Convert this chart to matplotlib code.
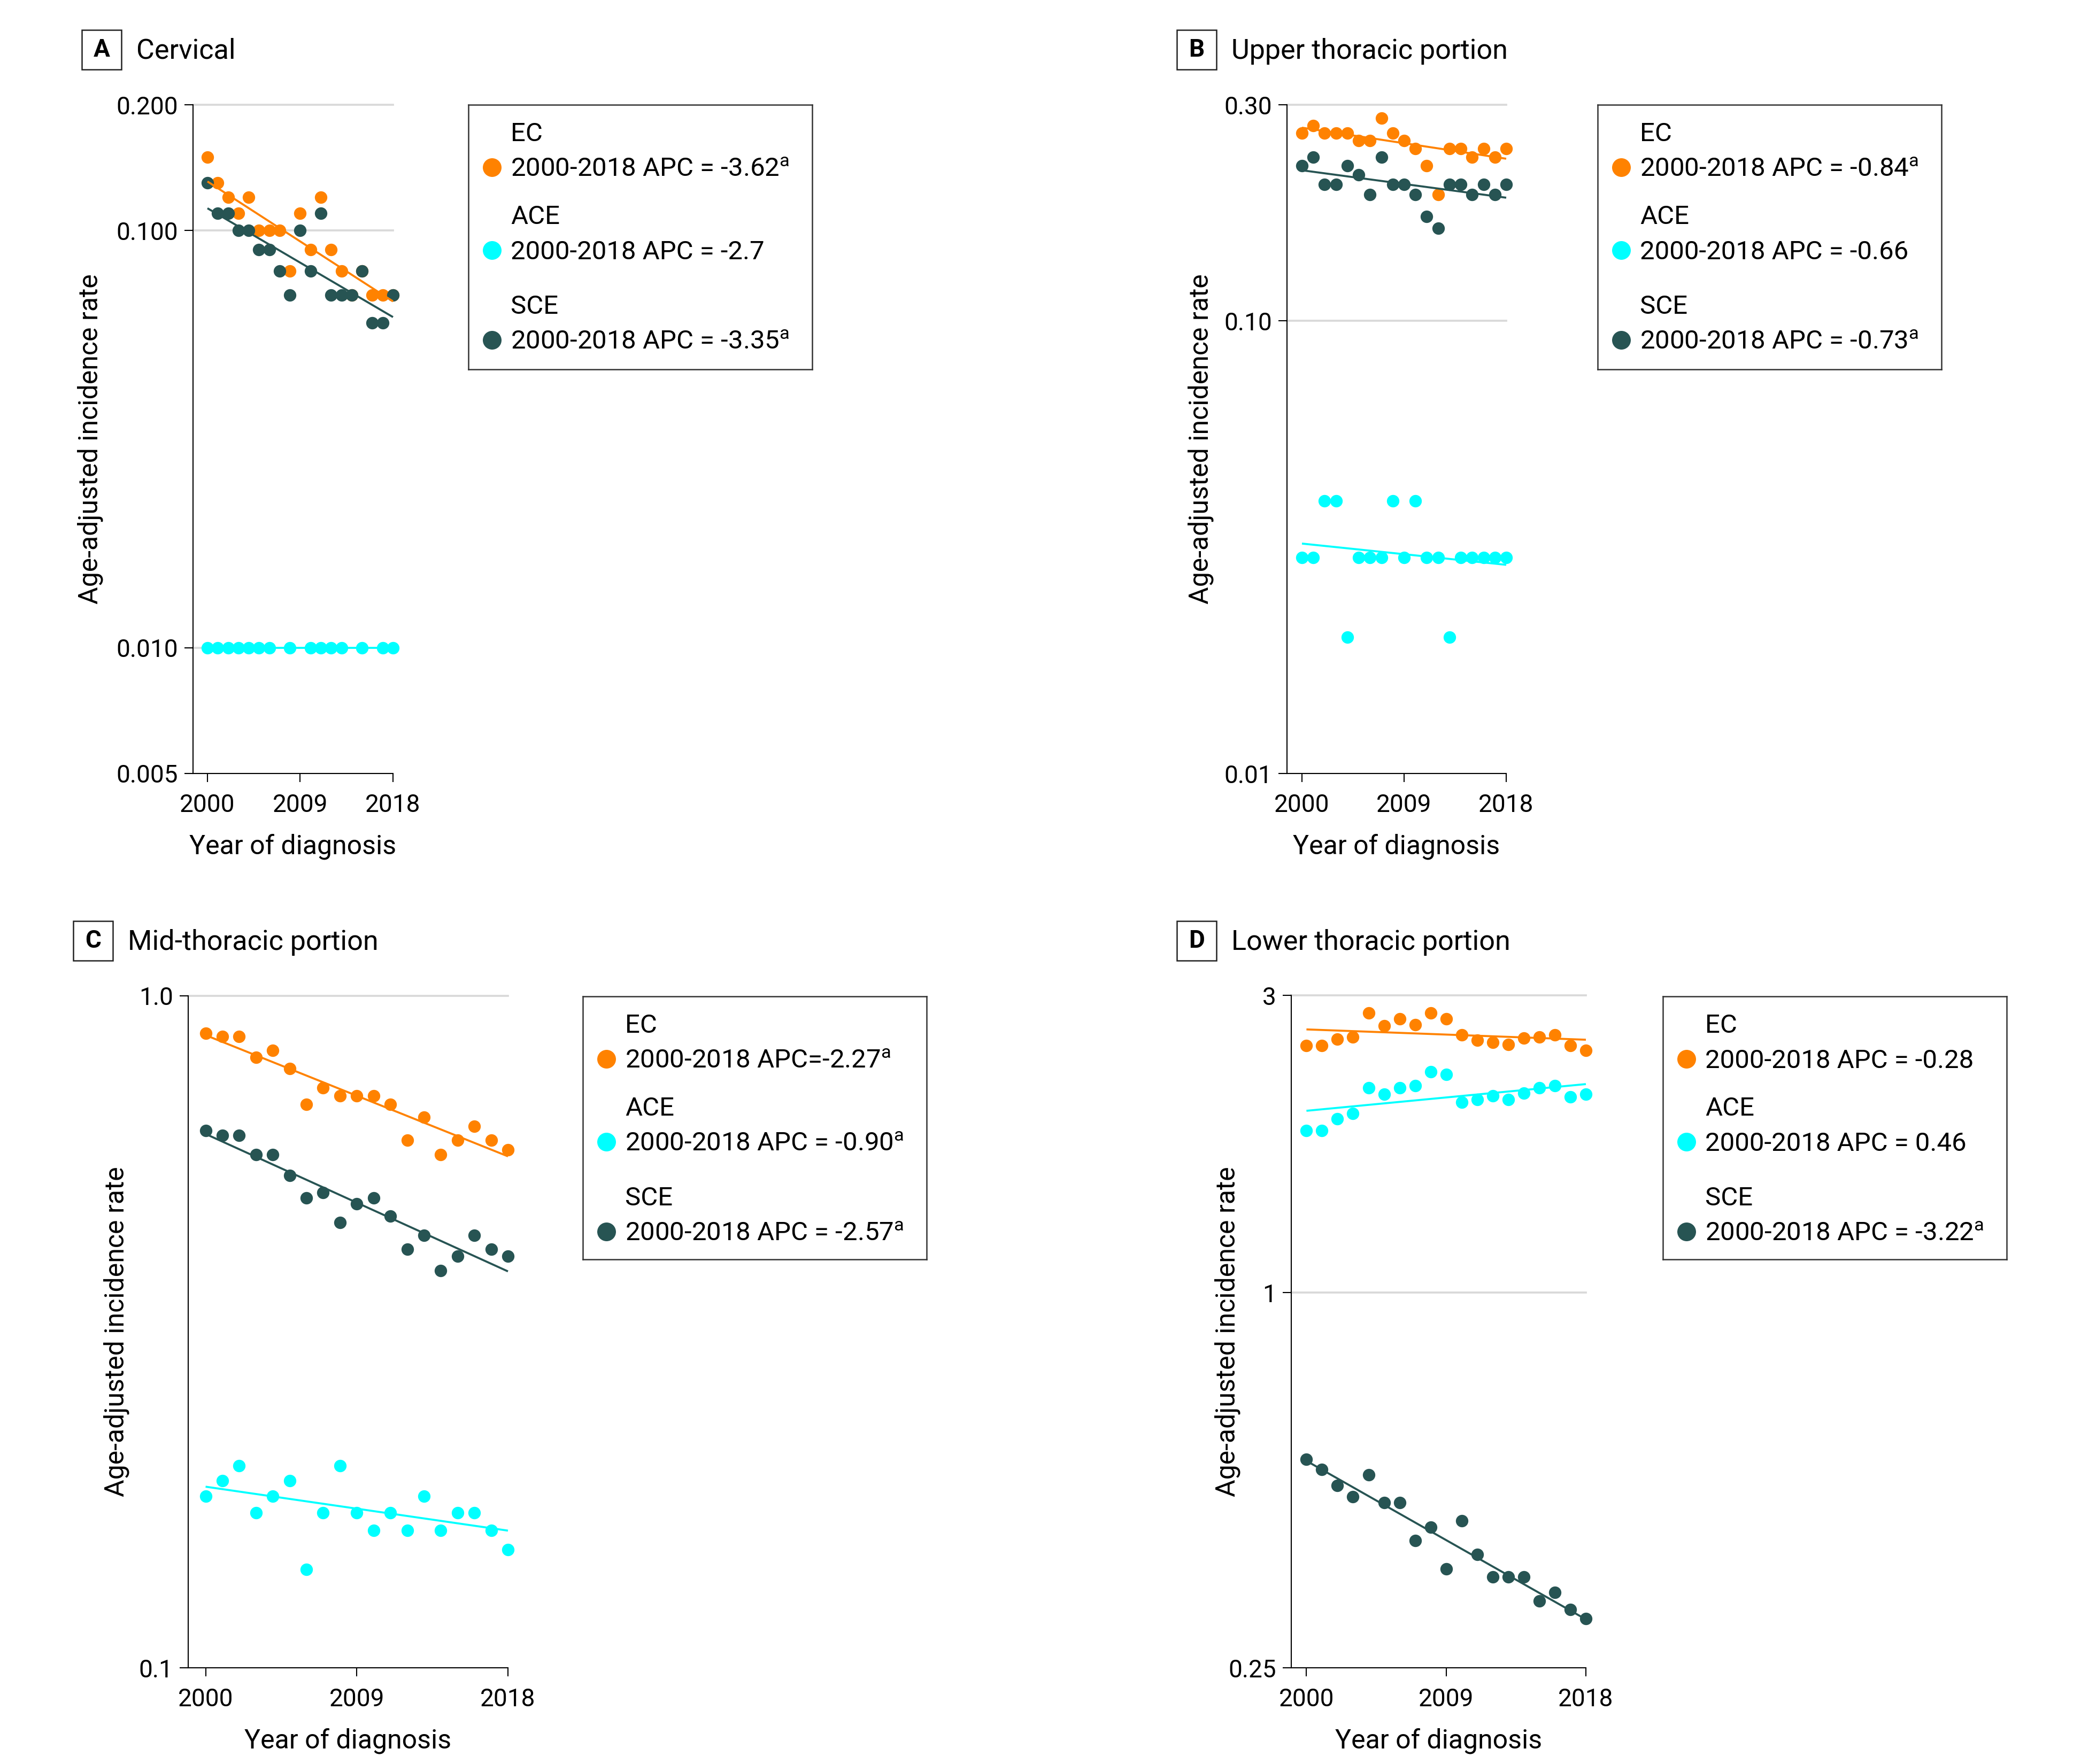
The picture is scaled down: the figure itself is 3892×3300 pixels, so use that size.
import numpy as np
import matplotlib
matplotlib.use("Agg")
import matplotlib.pyplot as plt
from matplotlib.patches import Rectangle
from matplotlib.ticker import NullLocator

plt.rcParams["font.family"] = ["Roboto", "DejaVu Sans"]
plt.rcParams["mathtext.fontset"] = "custom"
plt.rcParams["mathtext.rm"] = "Roboto"
plt.rcParams["mathtext.it"] = "Roboto:italic"
plt.rcParams["mathtext.bf"] = "Roboto:bold"

nan = np.nan
years = list(range(2000, 2019))

# ---- data (age-adjusted incidence rate per year) ----
cervical_ec = [0.15, 0.13, 0.12, 0.11, 0.12, 0.10, 0.10, 0.10, 0.08, 0.11,
               0.09, 0.12, 0.09, 0.08, 0.07, 0.08, 0.07, 0.07, 0.07]
cervical_ace = [0.01, 0.01, 0.01, 0.01, 0.01, 0.01, 0.01, nan, 0.01, nan,
                0.01, 0.01, 0.01, 0.01, nan, 0.01, nan, 0.01, 0.01]
cervical_sce = [0.13, 0.11, 0.11, 0.10, 0.10, 0.09, 0.09, 0.08, 0.07, 0.10,
                0.08, 0.11, 0.07, 0.07, 0.07, 0.08, 0.06, 0.06, 0.07]

upper_ec = [0.26, 0.27, 0.26, 0.26, 0.26, 0.25, 0.25, 0.28, 0.26, 0.25,
            0.24, 0.22, 0.19, 0.24, 0.24, 0.23, 0.24, 0.23, 0.24]
upper_ace = [0.03, 0.03, 0.04, 0.04, 0.02, 0.03, 0.03, 0.03, 0.04, 0.03,
             0.04, 0.03, 0.03, 0.02, 0.03, 0.03, 0.03, 0.03, 0.03]
upper_sce = [0.22, 0.23, 0.20, 0.20, 0.22, 0.21, 0.19, 0.23, 0.20, 0.20,
             0.19, 0.17, 0.16, 0.20, 0.20, 0.19, 0.20, 0.19, 0.20]

mid_ec = [0.88, 0.87, 0.87, 0.81, 0.83, 0.78, 0.69, 0.73, 0.71, 0.71,
          0.71, 0.69, 0.61, 0.66, 0.58, 0.61, 0.64, 0.61, 0.59]
mid_ace = [0.18, 0.19, 0.20, 0.17, 0.18, 0.19, 0.14, 0.17, 0.20, 0.17,
           0.16, 0.17, 0.16, 0.18, 0.16, 0.17, 0.17, 0.16, 0.15]
mid_sce = [0.63, 0.62, 0.62, 0.58, 0.58, 0.54, 0.50, 0.51, 0.46, 0.49,
           0.50, 0.47, 0.42, 0.44, 0.39, 0.41, 0.44, 0.42, 0.41]

lower_ec = [2.49, 2.49, 2.55, 2.57, 2.81, 2.68, 2.75, 2.69, 2.81, 2.75,
            2.59, 2.54, 2.52, 2.50, 2.56, 2.57, 2.59, 2.49, 2.45]
lower_ace = [1.82, 1.82, 1.90, 1.94, 2.13, 2.08, 2.13, 2.15, 2.26, 2.24,
             2.02, 2.04, 2.07, 2.04, 2.09, 2.13, 2.15, 2.06, 2.08]
lower_sce = [0.54, 0.52, 0.49, 0.47, 0.51, 0.46, 0.46, 0.40, 0.42, 0.36,
             0.43, 0.38, 0.35, 0.35, 0.35, 0.32, 0.33, 0.31, 0.30]

# joinpoint trend, value at 2000 and at 2018
cervical_trend = {"EC": (0.131, 0.0676), "ACE": (0.010, 0.010), "SCE": (0.113, 0.062)}
upper_trend = {"EC": (0.267, 0.228), "ACE": (0.0322, 0.0289), "SCE": (0.215, 0.187)}
mid_trend = {"EC": (0.874, 0.577), "ACE": (0.186, 0.160), "SCE": (0.623, 0.389)}
lower_trend = {"EC": (2.645, 2.546), "ACE": (1.958, 2.161), "SCE": (0.537, 0.299)}

# APC labels (text, significant?)
cervical_apc = {"EC": ("= -3.62", True), "ACE": ("= -2.7", False), "SCE": ("= -3.35", True)}
upper_apc = {"EC": ("= -0.84", True), "ACE": ("= -0.66", False), "SCE": ("= -0.73", True)}
mid_apc = {"EC": ("=-2.27", True), "ACE": ("= -0.90", True), "SCE": ("= -2.57", True)}
lower_apc = {"EC": ("= -0.28", False), "ACE": ("= 0.46", False), "SCE": ("= -3.22", True)}

series_names = ["EC", "ACE", "SCE"]
colors = {"EC": "#FF8200", "ACE": "#00FFFF", "SCE": "#275453"}

# ---- layout in pixels of the 3892 x 3300 canvas ----
W, H = 3892, 3300
fig = plt.figure(figsize=(W / 300, H / 300), dpi=300)


def rect(l, t, r, b):
    return [l / W, 1 - b / H, (r - l) / W, (b - t) / H]


panels = [
    dict(letter="A", title="Cervical",
         data={"EC": cervical_ec, "ACE": cervical_ace, "SCE": cervical_sce},
         trend=cervical_trend, apc=cervical_apc,
         ax_px=(361, 196, 735, 1447), x2000=388,
         ylim=(0.005, 0.2), yticks=[0.005, 0.01, 0.1, 0.2],
         ylabels=["0.005", "0.010", "0.100", "0.200"],
         ylab_x=169, box=(876, 196, 1519, 691), tag=(153, 93)),
    dict(letter="B", title="Upper thoracic portion",
         data={"EC": upper_ec, "ACE": upper_ace, "SCE": upper_sce},
         trend=upper_trend, apc=upper_apc,
         ax_px=(2407, 196, 2817, 1447), x2000=2435,
         ylim=(0.01, 0.3), yticks=[0.01, 0.1, 0.3],
         ylabels=["0.01", "0.10", "0.30"],
         ylab_x=2246, box=(2988, 196, 3631, 691), tag=(2201, 93)),
    dict(letter="C", title="Mid-thoracic portion",
         data={"EC": mid_ec, "ACE": mid_ace, "SCE": mid_sce},
         trend=mid_trend, apc=mid_apc,
         ax_px=(352, 1863, 950, 3120), x2000=384.5,
         ylim=(0.1, 1.0), yticks=[0.1, 1.0],
         ylabels=["0.1", "1.0"],
         ylab_x=218, box=(1090, 1864, 1733, 2356), tag=(137, 1760)),
    dict(letter="D", title="Lower thoracic portion",
         data={"EC": lower_ec, "ACE": lower_ace, "SCE": lower_sce},
         trend=lower_trend, apc=lower_apc,
         ax_px=(2415, 1862, 2966, 3120), x2000=2443.4,
         ylim=(0.25, 3), yticks=[0.25, 1, 3],
         ylabels=["0.25", "1", "3"],
         ylab_x=2296, box=(3110, 1864, 3753, 2356), tag=(2201, 1760)),
]

for p in panels:
    l, t, r, b = p["ax_px"]
    ax = fig.add_axes(rect(l, t, r, b))
    per_year = (r - p["x2000"]) / 18
    ax.set_xlim(2000 - (p["x2000"] - l) / per_year, 2018)
    ax.set_yscale("log")
    ax.set_ylim(*p["ylim"])

    for tk in p["yticks"][1:]:
        ax.axhline(tk, color="#d9d9d9", lw=0.9, zorder=1, clip_on=False)

    for name in series_names:
        ax.plot(years, p["data"][name], "o", ms=5.6, color=colors[name],
                mec="none", zorder=3, clip_on=False)
    for name in series_names:
        s, e = p["trend"][name]
        ax.plot([2000, 2018], [s, e], color=colors[name], lw=0.9,
                zorder=4, clip_on=False, solid_capstyle="butt")

    for side in ["top", "right"]:
        ax.spines[side].set_visible(False)
    for side in ["left", "bottom"]:
        ax.spines[side].set_linewidth(0.5)
        ax.spines[side].set_zorder(5)

    ax.set_yticks(p["yticks"])
    ax.set_yticklabels(p["ylabels"])
    ax.yaxis.set_minor_locator(NullLocator())
    ax.set_xticks([2000, 2009, 2018])
    ax.set_xticklabels(["2000", "2009", "2018"])
    ax.tick_params(direction="out", length=3.8, width=0.5, labelsize=11, pad=3)
    ax.tick_params(axis="x", pad=5)

    ax.set_xlabel("Year of diagnosis", fontsize=12)
    ax.xaxis.set_label_coords(0.5, -137 / (b - t))
    ax.xaxis.label.set_va("center")
    ax.set_ylabel("Age-adjusted incidence rate", fontsize=12)
    ax.yaxis.set_label_coords(-(l - p["ylab_x"]) / (r - l), 0.5)
    ax.yaxis.label.set_va("center")

    # panel tag and title
    tx, ty = p["tag"]
    fig.patches.append(Rectangle((tx / W, 1 - (ty + 37) / H), 74 / W, 74 / H,
                                 transform=fig.transFigure, fill=False,
                                 lw=0.6, edgecolor="#222222"))
    fig.text((tx + 37) / W, 1 - ty / H, p["letter"], ha="center", va="center",
             fontsize=11, fontweight="bold")
    fig.text((tx + 102) / W, 1 - (ty + 3) / H, p["title"], ha="left", va="center",
             fontsize=12.5)

    # legend box
    bl, bt, br, bb = p["box"]
    bw, bh = br - bl, bb - bt
    lax = fig.add_axes(rect(bl, bt, br, bb))
    lax.set_xlim(0, 1)
    lax.set_ylim(1, 0)
    lax.set_xticks([])
    lax.set_yticks([])
    for sp in lax.spines.values():
        sp.set_linewidth(0.6)
        sp.set_edgecolor("#333333")
    name_y = {"EC": 50.7, "ACE": 205.7, "SCE": 374}
    for name in series_names:
        y1 = name_y[name]
        y2 = y1 + 66
        apc, sig = p["apc"][name]
        label = "2000-2018 APC " + apc + (r"$^{\mathrm{a}}$" if sig else "")
        if apc.startswith("=-"):
            label = "2000-2018 APC" + apc + (r"$^{\mathrm{a}}$" if sig else "")
        lax.text(79 / bw, (y1 + 17) / bh, name, ha="left", va="baseline",
                 fontsize=11.8)
        lax.text(79 / bw, (y2 + 17) / bh, label, ha="left", va="baseline",
                 fontsize=11.8)
        lax.plot([44 / bw], [y2 / bh], "o", ms=8.4, color=colors[name],
                 mec="none")

fig.savefig("out.png", dpi=300)
